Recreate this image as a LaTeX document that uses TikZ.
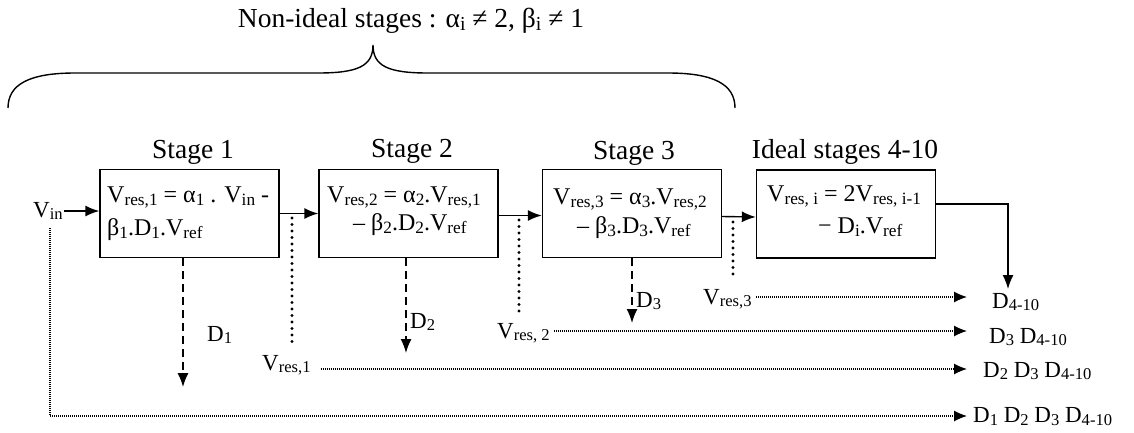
\documentclass[tikz,border=0pt]{standalone}
\usepackage{fontspec}
\setmainfont{Liberation Serif}
\usetikzlibrary{arrows.meta}
\newcommand\sbs[1]{\raisebox{-0.13em}{\scalebox{0.72}{#1}}}
\begin{document}
\begin{tikzpicture}[x=1pt,y=-1pt,
  box/.style={draw,line width=1.4pt,minimum width=179pt,minimum height=88pt,inner sep=0pt},
  eq/.style={anchor=base west,inner sep=0pt,font=\fontsize{24}{28}\selectfont},
  ttl/.style={anchor=base,inner sep=0pt,font=\fontsize{27.5}{30}\selectfont},
  lab/.style={anchor=base west,inner sep=0pt,font=\fontsize{23}{26}\selectfont},
  arr/.style={-{Latex[length=14pt,width=11pt]}},
  sarr/.style={-{Latex[length=13pt,width=11pt]}},
  wire/.style={line width=1.4pt},
  dashline/.style={line width=1.5pt,dash pattern=on 8pt off 5pt},
  bigdots/.style={line width=3.2pt,line cap=round,dash pattern=on 0pt off 6.5pt},
  thindots/.style={line width=1.2pt,dash pattern=on 1pt off 1pt}]
\useasboundingbox (0,0) rectangle (1134,432);

% title and brace
\node[ttl] (title) at (411,27) {Non-ideal stages : α\sbs{i} ≠ 2, β\sbs{i} ≠ 1};
\draw[line width=1.4pt] (8,108) .. controls (8,84) and (30,73) .. (75,73) -- (318,73)
  .. controls (358,73) and (373,66) .. (373,45)
  .. controls (373,66) and (388,73) .. (428,73) -- (668,73)
  .. controls (713,73) and (735,84) .. (735,108);

% stage labels
\node[ttl] (s1) at (193,158) {Stage 1};
\node[ttl] (s2) at (412,157) {Stage 2};
\node[ttl] (s3) at (634,159) {Stage 3};
\node[ttl] (s4) at (845,158) {Ideal stages 4-10};

% boxes
\node[box] (b1) at (189.5,213.5) {};
\node[box] (b2) at (408.5,213.5) {};
\node[box] (b3) at (632,213.5) {};
\node[box] (b4) at (846,214) {};

% box texts
\node[eq] (e11) at (107,202) {V\sbs{res,1} = α\sbs{1} . V\sbs{in} -};
\node[eq] (e12) at (107,235) {β\sbs{1}.D\sbs{1}.V\sbs{ref}};
\node[eq] (e21) at (327,202) {V\sbs{res,2} = α\sbs{2}.V\sbs{res,1}};
\node[eq] (e22) at (353,230) {– β\sbs{2}.D\sbs{2}.V\sbs{ref}};
\node[eq] (e31) at (553,204) {V\sbs{res,3} = α\sbs{3}.V\sbs{res,2}};
\node[eq] (e32) at (577,233) {– β\sbs{3}.D\sbs{3}.V\sbs{ref}};
\node[eq] (e41) at (767,201) {V\sbs{res, i} = 2V\sbs{res, i-1}};
\node[eq] (e42) at (818,233) {− D\sbs{i}.V\sbs{ref}};

% input
\node[lab] (vin) at (33,217) {V\sbs{in}};
\coordinate (vinS) at (64,211);
\draw[wire,arr] (vinS) -- (vinS -| b1.west);

% stage to stage
\draw[wire,arr] (b1.east) -- (b2.west);
\draw[wire,arr] ([yshift=-2pt]b2.east) -- ([yshift=-2pt]b3.west);
\draw[wire,arr] ([yshift=-3pt]b3.east) -- ([yshift=-3pt]b4.west);

% output of ideal stages
\coordinate (oc) at (1008,204);
\coordinate (ot) at (1008,289);
\draw[wire,arr] (b4.east |- oc) -- (oc) -- (ot);

% digital outputs (dashed)
\coordinate (d1t) at (183,387);
\coordinate (d2t) at (406,353);
\coordinate (d3t) at (632,323);
\draw[dashline,arr] (b1.south -| d1t) -- (d1t);
\draw[dashline,arr] (b2.south -| d2t) -- (d2t);
\draw[dashline,arr] (b3.south -| d3t) -- (d3t);
\node[lab] (D1) at (207,341) {D\sbs{1}};
\node[lab] (D2) at (410,328) {D\sbs{2}};
\node[lab] (D3) at (636,307) {D\sbs{3}};

% residue labels
\node[lab] (vr1) at (262,370) {V\sbs{res,1}};
\node[lab] (vr2) at (497,338) {V\sbs{res, 2}};
\node[lab] (vr3) at (703,304) {V\sbs{res,3}};

% residue taps (bold dotted)
\coordinate (p1a) at (292,218); \coordinate (p1b) at (292,343);
\coordinate (p2a) at (519,220); \coordinate (p2b) at (519,312);
\coordinate (p3a) at (733,222); \coordinate (p3b) at (733,280);
\draw[bigdots] (p1a) -- (p1b);
\draw[bigdots] (p2a) -- (p2b);
\draw[bigdots] (p3a) -- (p3b);

% output code labels
\node[lab] (o1) at (992,308) {D\sbs{4-10}};
\node[lab] (o2) at (989,343) {D\sbs{3} D\sbs{4-10}};
\node[lab] (o3) at (983,377) {D\sbs{2} D\sbs{3} D\sbs{4-10}};
\node[lab] (o4) at (973,422) {D\sbs{1} D\sbs{2} D\sbs{3} D\sbs{4-10}};

% thin dotted routes
\coordinate (t1) at (967,297);
\coordinate (t2) at (967,331);
\coordinate (t3) at (967,369);
\coordinate (t4) at (967,416);
\coordinate (vinD) at (50,228);
\draw[thindots,sarr] ([xshift=4pt]vr3.east |- t1) -- (t1);
\draw[thindots,sarr] ([xshift=4pt]vr2.east |- t2) -- (t2);
\draw[thindots,sarr] ([xshift=10pt]vr1.east |- t3) -- (t3);
\draw[thindots,sarr] (vinD) -- (vinD |- t4) -- (t4);
\end{tikzpicture}
\end{document}
